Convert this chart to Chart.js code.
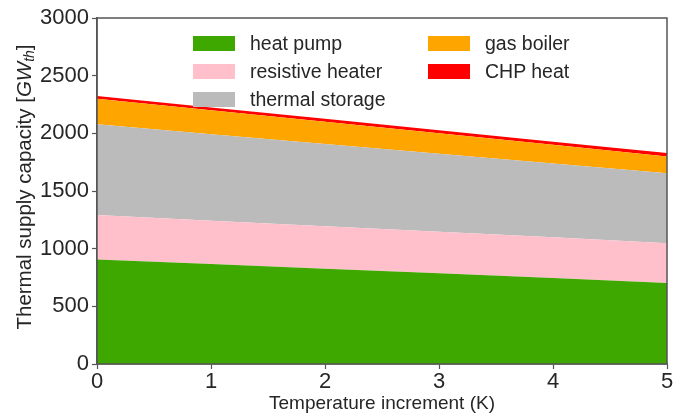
<!DOCTYPE html>
<html>
<head>
<meta charset="utf-8">
<script src="https://cdn.jsdelivr.net/npm/chart.js@4/dist/chart.umd.min.js"></script>
<style>
  html, body { margin: 0; padding: 0; background: #fff; }
  #wrap { position: relative; width: 688px; height: 416px; }
  #legend { position: absolute; left: 0; top: 0; width: 688px; height: 416px; pointer-events: none;
    font-family: "Liberation Sans", Arial, sans-serif; font-size: 19.5px; color: #262626; }
  .item { position: absolute; display: flex; align-items: center; white-space: nowrap; }
  .box { width: 42px; height: 15px; margin-right: 15px; }
</style>
</head>
<body>
<div id="wrap">
  <canvas id="c" width="688" height="416"></canvas>
  <div id="legend"></div>
</div>
<script>
const temperatureIncrement = [0, 1, 2, 3, 4, 5];
const heatPump        = [905, 866, 826, 786, 745, 702];
const resistiveHeater = [387, 377, 369, 360, 353, 346];
const thermalStorage  = [786, 750, 713, 678, 641, 606];
const gasBoiler       = [222, 207, 192, 176, 161, 146];
const chpHeat         = [24, 25, 26, 27, 28, 30];
const seriesNames  = ['heat pump', 'resistive heater', 'thermal storage', 'gas boiler', 'CHP heat'];
const seriesColors = ['#3ea800', '#ffc0cb', '#bbbbbb', '#ffa500', '#ff0000'];
const seriesValues = [heatPump, resistiveHeater, thermalStorage, gasBoiler, chpHeat];
const yTicks = [0, 500, 1000, 1500, 2000, 2500, 3000];
const xTicks = [0, 1, 2, 3, 4, 5];

const FONT = '"Liberation Sans", Arial, sans-serif';
const TXT = '#262626';
const SPINE = '#555555';

const datasets = seriesValues.map((vals, i) => ({
  label: seriesNames[i],
  data: temperatureIncrement.map((x, j) => ({ x: x, y: vals[j] })),
  backgroundColor: seriesColors[i],
  borderColor: seriesColors[i],
  borderWidth: 0,
  pointRadius: 0,
  tension: 0,
  fill: i === 0 ? 'origin' : '-1'
}));

const framePlugin = {
  id: 'frame',
  afterDatasetsDraw(chart) {
    const { ctx, chartArea: a } = chart;
    ctx.save();
    ctx.strokeStyle = SPINE;
    ctx.lineWidth = 1.5;
    ctx.strokeRect(a.left, a.top, a.right - a.left, a.bottom - a.top);
    ctx.restore();
  },
  afterDraw(chart) {
    const { ctx, chartArea: a } = chart;
    ctx.save();
    ctx.fillStyle = TXT;
    ctx.translate(25, (a.top + a.bottom) / 2 - 4);
    ctx.rotate(-Math.PI / 2);
    ctx.textBaseline = 'middle';
    const parts = [
      { t: 'Thermal supply capacity [', f: '20.5px ' + FONT, dy: 0 },
      { t: 'GW', f: 'italic 20.5px ' + FONT, dy: 0 },
      { t: 'th', f: 'italic 14px ' + FONT, dy: 5 },
      { t: ']', f: '20.5px ' + FONT, dy: 0 }
    ];
    let total = 0;
    parts.forEach(p => { ctx.font = p.f; p.w = ctx.measureText(p.t).width; total += p.w; });
    let x = -total / 2;
    parts.forEach(p => { ctx.font = p.f; ctx.textAlign = 'left'; ctx.fillText(p.t, x, p.dy); x += p.w; });
    ctx.restore();
  }
};

const chart = new Chart(document.getElementById('c'), {
  type: 'line',
  data: { datasets },
  plugins: [framePlugin],
  options: {
    responsive: false,
    animation: false,
    events: [],
    layout: { padding: { left: 0, right: 21, top: 18, bottom: 0 } },
    plugins: { legend: { display: false }, tooltip: { enabled: false } },
    scales: {
      x: {
        type: 'linear', min: 0, max: 5,
        afterBuildTicks: s => { s.ticks = xTicks.map(v => ({ value: v })); },
        afterFit: s => { s.height = 52; },
        grid: { drawOnChartArea: false, tickLength: 5, color: SPINE, tickWidth: 1.2 },
        border: { display: true, color: SPINE, width: 1.5 },
        ticks: { color: TXT, font: { family: FONT, size: 22 }, padding: 0, maxRotation: 0,
                 callback: v => String(v) },
        title: { display: true, text: 'Temperature increment (K)', color: TXT,
                 font: { family: FONT, size: 19 }, padding: { top: 0, bottom: 1 } }
      },
      y: {
        stacked: true, min: 0, max: 3000,
        afterBuildTicks: s => { s.ticks = yTicks.map(v => ({ value: v })); },
        afterFit: s => { s.width = 97; },
        grid: { drawOnChartArea: false, tickLength: 5, color: SPINE, tickWidth: 1.2 },
        border: { display: true, color: SPINE, width: 1.5 },
        ticks: { color: TXT, font: { family: FONT, size: 22 }, padding: 3,
                 callback: v => String(v) }
      }
    }
  }
});

// legend overlay (column-major, two columns)
const legendPos = [
  { left: 193, top: 43 }, { left: 193, top: 71 }, { left: 193, top: 99 },
  { left: 428, top: 43 }, { left: 428, top: 71 }
];
const leg = document.getElementById('legend');
chart.data.datasets.forEach((ds, i) => {
  const d = document.createElement('div');
  d.className = 'item';
  d.style.left = legendPos[i].left + 'px';
  d.style.top = (legendPos[i].top - 12) + 'px';
  d.style.height = '24px';
  const b = document.createElement('span');
  b.className = 'box';
  b.style.background = ds.backgroundColor;
  const t = document.createElement('span');
  t.textContent = ds.label;
  d.appendChild(b); d.appendChild(t);
  leg.appendChild(d);
});
</script>
</body>
</html>
